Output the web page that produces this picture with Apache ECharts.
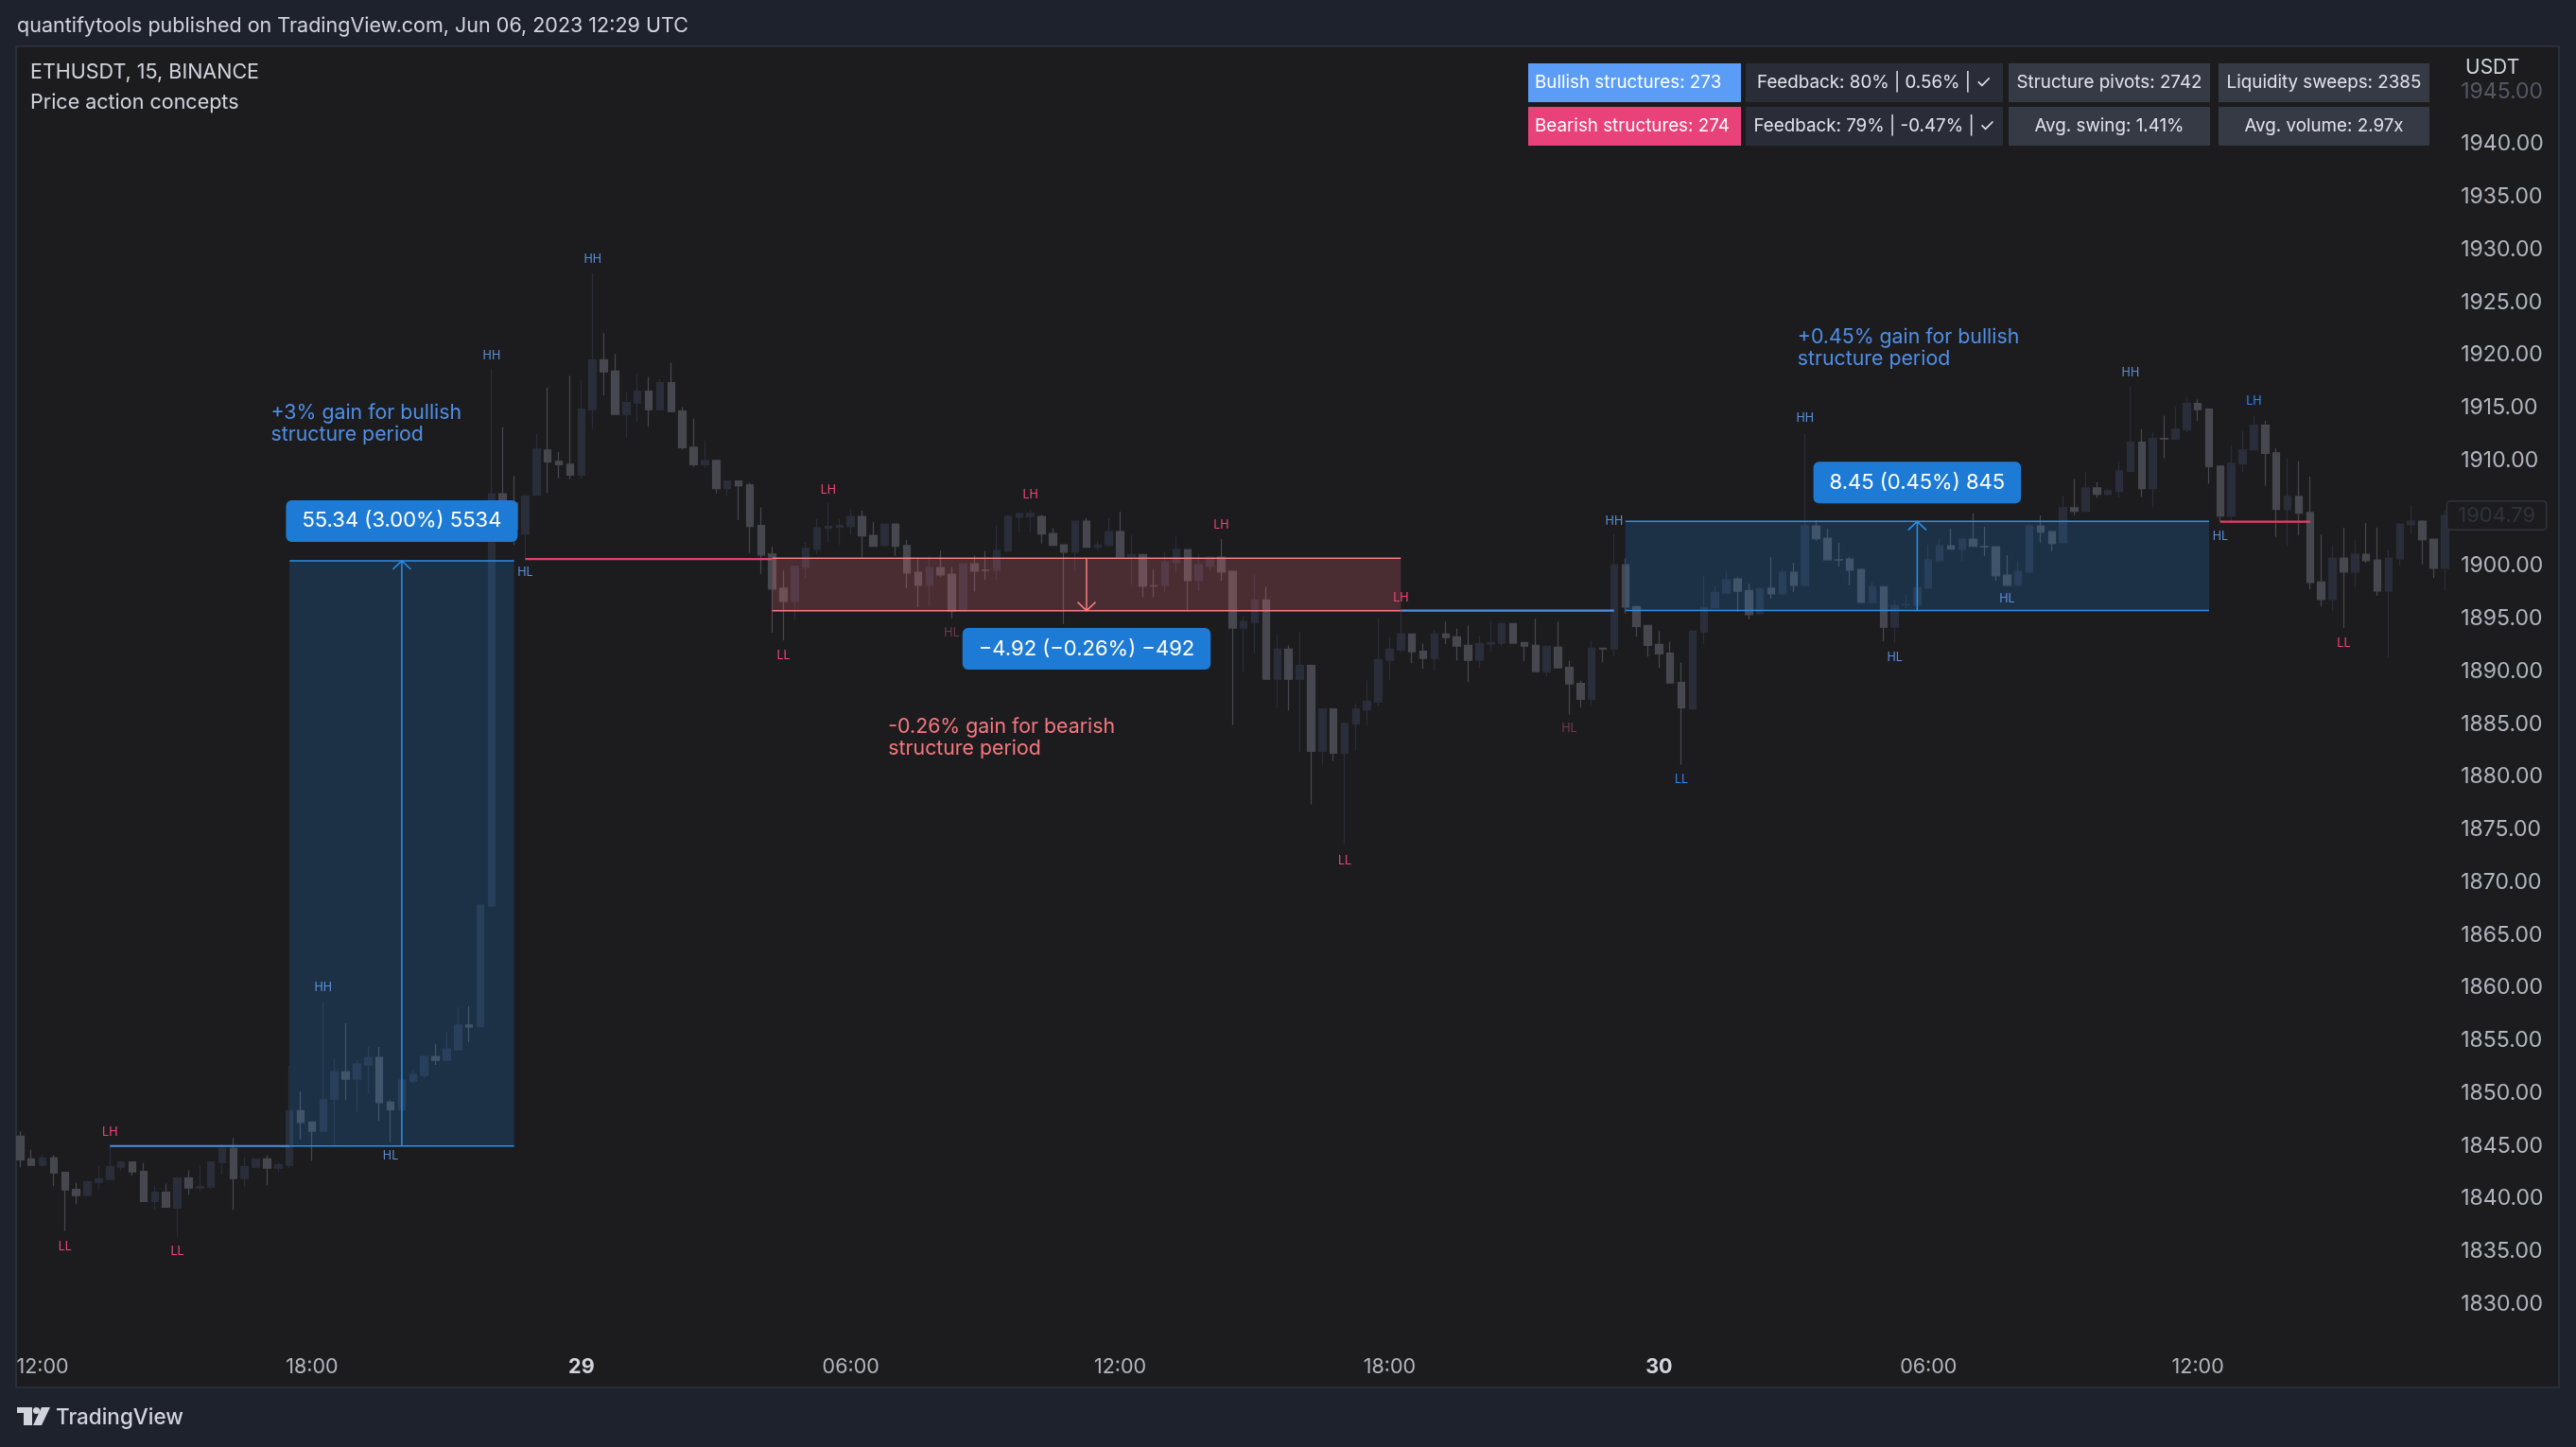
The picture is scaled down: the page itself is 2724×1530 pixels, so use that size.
<!DOCTYPE html>
<html><head><meta charset="utf-8">
<script src="https://cdn.jsdelivr.net/npm/echarts@6/dist/echarts.min.js"></script>
<style>html,body{margin:0;padding:0;background:#1e222d;}#c{width:2724px;height:1530px;}</style>
</head><body><div id="c"></div>
<script>
const FONT = "Inter, 'DejaVu Sans', sans-serif";

// ---- time axis ----
const START_UTC = Date.UTC(2023, 4, 28, 11, 30);
const BAR_MINUTES = 15;
const tickLabels = {2: '12:00', 26: '18:00', 50: '29', 74: '06:00', 98: '12:00', 122: '18:00', 146: '30', 170: '06:00', 194: '12:00'};

// ---- ETHUSDT 15m candles: [open, close, low, high] ----
const ohlc = [
[1845.93,1843.68,1842.96,1846.38],[1843.77,1843.17,1843.17,1844.67],[1843.17,1843.86,1843.17,1844.13],[1843.86,1842.45,1841.19,1844.13],
[1842.51,1840.83,1836.96,1842.51],[1840.89,1840.29,1839.48,1841.52],[1840.29,1841.61,1840.29,1841.70],[1841.55,1841.88,1840.92,1843.14],
[1841.82,1843.05,1841.82,1845.00],[1842.99,1843.50,1842.63,1843.50],[1843.50,1842.54,1842.18,1843.50],[1842.60,1839.75,1839.75,1843.41],
[1839.75,1840.62,1838.94,1841.25],[1840.62,1839.21,1839.21,1841.43],[1839.12,1841.97,1836.42,1841.97],[1841.97,1841.01,1840.38,1842.69],
[1841.01,1841.16,1840.74,1843.14],[1841.10,1843.50,1840.92,1843.50],[1843.44,1844.76,1842.27,1845.21],[1844.76,1841.91,1838.94,1845.75],
[1841.91,1843.05,1841.10,1843.95],[1842.99,1843.77,1842.90,1843.77],[1843.77,1842.90,1841.28,1844.13],[1842.90,1843.23,1842.54,1843.41],
[1843.17,1848.36,1842.90,1852.59],[1848.36,1847.22,1845.60,1850.16],[1847.28,1846.41,1843.62,1847.28],[1846.41,1849.44,1846.41,1858.71],
[1849.44,1852.05,1844.94,1853.22],[1852.05,1851.33,1849.35,1856.64],[1851.33,1852.77,1848.27,1853.13],[1852.68,1853.40,1850.01,1854.39],
[1853.40,1849.11,1847.40,1854.39],[1849.17,1848.45,1845.39,1849.35],[1848.45,1851.24,1848.45,1851.78],[1851.15,1851.78,1850.97,1852.32],
[1851.69,1853.49,1851.42,1853.49],[1853.49,1853.13,1852.68,1854.66],[1853.13,1854.21,1853.13,1855.83],[1854.12,1856.46,1854.12,1858.17],
[1856.46,1856.28,1854.84,1858.26],[1856.35,1867.83,1856.20,1867.90],[1867.77,1906.86,1867.70,1918.70],[1906.86,1904.50,1903.50,1913.17],
[1906.00,1903.50,1902.00,1908.55],[1903.03,1906.66,1900.60,1906.81],[1906.72,1911.10,1906.72,1912.51],[1911.01,1909.87,1906.93,1916.92],
[1909.93,1909.60,1908.31,1910.83],[1909.66,1908.61,1908.25,1918.03],[1908.61,1914.88,1908.25,1917.67],[1914.82,1919.56,1913.02,1927.75],
[1919.56,1918.42,1916.17,1922.08],[1918.48,1914.37,1914.37,1920.10],[1914.37,1915.51,1912.21,1916.50],[1915.45,1916.59,1913.71,1918.30],
[1916.59,1914.82,1913.20,1917.94],[1914.82,1917.40,1914.82,1917.76],[1917.40,1914.64,1914.64,1919.29],[1914.70,1911.22,1911.04,1915.06],
[1911.28,1909.60,1909.42,1913.98],[1909.60,1909.99,1909.33,1911.91],[1910.02,1907.35,1906.90,1910.02],[1907.35,1908.07,1906.63,1908.07],
[1908.07,1907.62,1904.38,1908.07],[1907.71,1903.75,1901.23,1907.89],[1903.84,1901.05,1899.25,1905.55],[1901.14,1897.81,1893.67,1901.86],
[1897.90,1896.64,1892.95,1899.58],[1896.64,1899.97,1894.84,1899.97],[1899.88,1901.68,1898.89,1902.22],[1901.59,1903.63,1901.14,1904.44],
[1903.57,1903.75,1902.22,1905.97],[1903.69,1903.84,1902.04,1904.44],[1903.75,1904.71,1902.94,1905.43],[1904.71,1902.85,1900.75,1905.25],
[1902.91,1901.86,1901.86,1904.17],[1901.95,1903.99,1901.95,1903.99],[1903.99,1901.86,1900.96,1903.99],[1901.95,1899.34,1897.90,1902.49],
[1899.40,1898.17,1896.10,1900.66],[1898.17,1899.85,1896.28,1900.96],[1899.85,1899.16,1898.95,1901.47],[1899.22,1895.71,1895.02,1899.94],
[1895.71,1900.21,1895.71,1900.21],[1900.21,1899.52,1897.57,1901.02],[1899.61,1899.58,1898.71,1901.41],[1899.61,1901.47,1898.71,1903.90],
[1901.41,1904.71,1901.41,1904.86],[1904.65,1904.98,1903.21,1904.98],[1904.71,1904.98,1903.27,1905.34],[1904.71,1903.03,1902.13,1904.86],
[1903.09,1901.95,1901.95,1903.60],[1902.01,1901.32,1894.50,1902.01],[1901.32,1904.26,1899.52,1904.26],[1904.26,1901.77,1901.77,1904.56],
[1901.77,1901.98,1901.50,1902.40],[1901.95,1903.27,1901.95,1904.53],[1903.27,1900.87,1900.87,1905.16],[1900.87,1901.08,1898.20,1902.91],
[1901.08,1898.08,1897.03,1901.08],[1898.14,1898.11,1897.03,1899.67],[1898.17,1900.39,1897.48,1901.35],[1900.33,1901.56,1899.34,1902.79],
[1901.56,1898.62,1895.86,1901.62],[1898.62,1900.12,1897.63,1901.17],[1899.97,1900.84,1899.52,1900.84],[1900.84,1899.43,1898.62,1902.55],
[1899.49,1894.12,1884.94,1899.49],[1894.12,1894.72,1889.98,1895.26],[1894.66,1896.79,1891.78,1899.13],[1896.79,1889.26,1889.26,1898.05],
[1889.26,1892.11,1886.47,1893.46],[1892.11,1889.26,1886.29,1892.47],[1889.26,1890.58,1882.33,1893.73],[1890.58,1882.42,1877.41,1890.58],
[1882.42,1886.44,1881.16,1886.44],[1886.44,1882.24,1881.52,1886.44],[1882.24,1885.09,1873.60,1885.09],[1885.03,1886.44,1882.51,1886.98],
[1886.38,1887.16,1884.94,1889.14],[1887.10,1891.12,1886.74,1894.99],[1891.06,1892.11,1889.17,1893.28],[1892.05,1893.55,1891.78,1895.74],
[1893.55,1891.87,1890.79,1893.55],[1891.93,1891.24,1890.25,1892.65],[1891.24,1893.55,1890.07,1893.91],[1893.55,1893.22,1892.59,1894.72],
[1893.28,1892.41,1891.06,1894.09],[1892.47,1891.06,1888.99,1894.36],[1891.06,1892.65,1890.34,1893.37],[1892.59,1892.74,1891.87,1894.81],
[1892.68,1894.54,1892.41,1894.72],[1894.54,1892.68,1892.68,1894.54],[1892.74,1892.41,1890.97,1892.74],[1892.47,1889.98,1889.98,1894.99],
[1889.98,1892.38,1889.53,1892.38],[1892.29,1890.34,1890.34,1894.72],[1890.40,1888.81,1885.93,1891.03],[1888.87,1887.37,1886.56,1889.14],
[1887.37,1892.20,1886.83,1892.92],[1892.20,1892.14,1890.88,1892.20],[1892.14,1900.12,1891.42,1903.00],[1900.12,1896.10,1895.47,1900.75],
[1896.16,1894.27,1893.31,1896.16],[1894.36,1892.47,1891.42,1894.36],[1892.56,1891.66,1890.34,1893.82],[1891.75,1888.90,1888.90,1892.83],
[1888.96,1886.56,1881.16,1890.85],[1886.47,1893.82,1886.47,1893.82],[1893.76,1896.07,1892.59,1899.07],[1896.01,1897.51,1896.01,1898.14],
[1897.42,1898.68,1897.42,1899.40],[1898.77,1897.60,1895.65,1898.95],[1897.69,1895.38,1894.93,1898.32],[1895.47,1897.87,1895.47,1897.87],
[1897.90,1897.36,1896.91,1900.84],[1897.36,1899.40,1897.36,1899.76],[1899.40,1898.17,1897.54,1900.30],[1898.17,1903.81,1898.17,1912.54],
[1903.81,1902.58,1902.40,1904.35],[1902.64,1900.60,1900.60,1903.54],[1900.60,1900.57,1899.97,1902.22],[1900.66,1899.61,1898.17,1900.84],
[1899.67,1896.55,1896.55,1899.67],[1896.55,1898.05,1896.55,1898.50],[1898.05,1894.21,1892.86,1898.14],[1894.21,1896.25,1892.68,1896.79],
[1896.31,1896.34,1896.01,1897.24],[1896.28,1897.96,1896.28,1899.31],[1897.90,1900.57,1897.90,1902.01],[1900.51,1901.92,1900.51,1902.55],
[1901.92,1901.59,1901.59,1903.54],[1901.59,1902.55,1900.42,1902.64],[1902.55,1901.86,1901.86,1904.98],[1901.86,1901.83,1900.96,1903.72],
[1901.83,1899.07,1898.62,1901.83],[1899.13,1898.17,1898.17,1901.02],[1898.17,1899.49,1898.17,1900.48],[1899.43,1903.81,1899.43,1903.99],
[1903.81,1903.21,1902.22,1904.80],[1903.27,1902.13,1901.41,1903.27],[1902.22,1905.52,1902.22,1906.69],[1905.52,1905.19,1904.83,1908.22],
[1905.19,1907.41,1905.19,1908.94],[1907.41,1906.81,1906.45,1907.95],[1906.81,1907.14,1906.63,1907.32],[1907.08,1909.03,1906.54,1909.93],
[1908.97,1911.73,1908.97,1917.04],[1911.73,1907.35,1906.54,1912.99],[1907.35,1912.09,1905.55,1912.72],[1912.09,1912.06,1910.23,1914.25],
[1912.03,1912.99,1912.03,1915.06],[1912.93,1915.42,1912.66,1916.05],[1915.42,1914.82,1913.74,1915.78],[1914.88,1909.42,1907.80,1914.88],
[1909.48,1904.74,1904.20,1909.48],[1904.74,1909.75,1904.20,1911.46],[1909.69,1911.01,1908.85,1912.81],[1911.01,1913.35,1911.01,1914.25],
[1913.35,1910.68,1907.62,1913.80],[1910.74,1905.37,1902.76,1911.19],[1905.37,1906.60,1901.86,1910.20],[1906.60,1905.01,1902.91,1909.93],
[1905.07,1898.44,1897.81,1908.49],[1898.50,1896.82,1896.19,1903.00],[1896.82,1900.75,1895.74,1902.01],[1900.75,1899.43,1894.12,1903.63],
[1899.43,1901.11,1897.99,1902.46],[1901.11,1900.51,1900.33,1904.08],[1900.57,1897.63,1897.18,1903.63],[1897.63,1900.75,1891.33,1901.47],
[1900.69,1903.99,1900.06,1903.99],[1903.93,1904.26,1903.03,1905.79],[1904.26,1902.49,1900.15,1904.35],[1902.55,1899.79,1898.89,1902.55],
[1899.79,1904.80,1897.63,1905.25]
];
const lastPrice = 1904.79;

// ---- structure zones: [fromBar, toBar, low, high] ----
const zones = [[24, 44, 1845.0, 1900.5], [67, 123, 1895.77, 1900.75], [143, 195, 1895.78, 1904.23]];
const zoneKinds = ['bull', 'bear', 'bull'];

// ---- structure levels: [fromBar, toBar, price] ----
const levels = [[8, 24, 1845.0], [45, 67, 1900.66], [123, 142, 1895.78], [196, 204, 1904.2]];
const levelKinds = ['bull', 'bear', 'bull', 'bear'];

// ---- measure arrows: [bar, fromPrice, toPrice] ----
const arrows = [[34, 1845.0, 1900.5], [95, 1900.75, 1895.77], [169, 1895.78, 1904.23]];
const arrowKinds = ['bull', 'bear', 'bull'];

// ---- measure tags: [bar, price] ----
const tags = [[34, 1904.27], [95, 1892.15], [169, 1907.92]];
const tagTexts = ['55.34 (3.00%) 5534', '\u22124.92 (\u22120.26%) \u2212492', '8.45 (0.45%) 845'];

// ---- period notes: [bar, price] ----
const notes = [[22, 1913.48], [77, 1883.69], [158, 1920.68]];
const noteTexts = ['+3% gain for bullish\nstructure period', '-0.26% gain for bearish\nstructure period', '+0.45% gain for bullish\nstructure period'];
const noteKinds = ['bull', 'bear', 'bull'];

// ---- pivot labels: [bar, price] ----
const pivots = [[4,1835.46],[8,1846.26],[14,1835.01],[27,1860.04],[33,1844.10],[42,1919.95],[45,1899.37],[51,1929.07],
  [68,1891.50],[72,1907.20],[83,1893.66],[90,1906.71],[107,1903.92],[118,1872.06],[123,1896.99],[138,1884.57],
  [142,1904.28],[148,1879.71],[159,1914.00],[167,1891.32],[177,1896.90],[188,1918.33],[196,1902.84],[199,1915.63],[207,1892.65]];
const pivotTexts = ['LL','LH','LL','HH','HL','HH','HL','HH','LL','LH','HL','LH','LH','LL','LH','HL','HH','LL','HH','HL','HL','HH','HL','LH','LL'];
const pivotKinds = ['p','p','p','b','b','b','b','b','p','p','d','p','p','p','p','d','b','B','b','b','b','b','b','B','p'];

// ---- stats table ----
const tableRows = [
  ['Bullish structures: 273', 'Feedback: 80% | 0.56% | \u2713', 'Structure pivots: 2742', 'Liquidity sweeps: 2385'],
  ['Bearish structures: 274', 'Feedback: 79% | -0.47% | \u2713', 'Avg. swing: 1.41%', 'Avg. volume: 2.97x']
];

// ---------------------------------------------------------------
const categories = ohlc.map((_, i) => {
  const d = new Date(START_UTC + i * BAR_MINUTES * 60000);
  return d.getUTCDate() + ' ' + String(d.getUTCHours()).padStart(2, '0') + ':' + String(d.getUTCMinutes()).padStart(2, '0');
});

const COL = {
  bull: '#2a8ff0', bear: '#f77c80',
  bullFill: 'rgba(33,150,243,0.18)', bearFill: 'rgba(240,110,120,0.22)',
  levelBull: '#4a90e2', levelBear: '#e63f6c',
  noteBull: '#4f8fe6', noteBear: '#f7777f',
  pivot: {p: '#ef4676', b: '#5b8fd9', B: '#2a8af0', d: '#6e3a4c'}
};

const chart = echarts.init(document.getElementById('c'), null, {renderer: 'canvas', width: 2724, height: 1530});

// table graphic
const colX = [1616, 1846, 2124, 2346], colW = [225, 272, 213, 223];
const rowY = [67, 113], rowH = 41;
const cellFill = [['#5b9cf6', '#2a2d37', '#363a45', '#363a45'], ['#e9417a', '#2a2d37', '#363a45', '#363a45']];
const tableEls = [];
tableRows.forEach((row, r) => row.forEach((txt, c) => {
  tableEls.push({type: 'rect', z: 20, shape: {x: colX[c], y: rowY[r], width: colW[c], height: rowH}, style: {fill: cellFill[r][c]}});
  tableEls.push({type: 'text', z: 21, x: c === 0 ? colX[c] + 7 : colX[c] + colW[c] / 2, y: rowY[r] + rowH / 2,
    style: {text: txt, fill: c === 0 ? '#ffffff' : '#e0e3eb', fontSize: 18.8, fontFamily: FONT, align: c === 0 ? 'left' : 'center', verticalAlign: 'middle'}});
}));

const option = {
  backgroundColor: '#1e222d',
  animation: false,
  grid: {left: 15.4, width: 2575.8, top: 41.0, height: 1393.75, containLabel: false},
  xAxis: {
    type: 'category', data: categories, boundaryGap: true,
    axisLine: {show: false}, axisTick: {show: false}, splitLine: {show: false},
    axisLabel: {
      interval: (i) => tickLabels[i] !== undefined,
      formatter: (v, i) => { const t = tickLabels[i] || ''; return (t === '29' || t === '30') ? '{b|' + t + '}' : t; },
      color: '#b2b5be', fontSize: 21.5, fontFamily: FONT, margin: 0, lineHeight: 22,
      rich: {b: {fontWeight: 'bold', color: '#d1d4dc', fontSize: 21.5, fontFamily: FONT}}
    }
  },
  yAxis: {
    type: 'value', position: 'right', min: 1825, max: 1950, interval: 5, scale: true,
    axisLine: {show: false}, axisTick: {show: false}, splitLine: {show: false},
    axisLabel: {
      margin: 11, fontSize: 23, color: '#b2b5be', fontFamily: FONT,
      formatter: (v) => (v < 1830 || v > 1945) ? '' : (v === 1945 ? '{d|1945.00}' : v.toFixed(2)),
      rich: {d: {color: '#555862', fontSize: 23, fontFamily: FONT}}
    }
  },
  graphic: {elements: [
    {type: 'rect', z: -10, shape: {x: 17, y: 49, width: 2689, height: 1418}, style: {fill: '#1c1c1f', stroke: '#2a2e39', lineWidth: 2}},
    {type: 'text', x: 18, y: 28, style: {text: 'quantifytools published on TradingView.com, Jun 06, 2023 12:29 UTC', fill: '#d1d4dc', fontSize: 21.5, fontFamily: FONT, verticalAlign: 'middle'}},
    {type: 'text', x: 32, y: 77, style: {text: 'ETHUSDT, 15, BINANCE', fill: '#d1d4dc', fontSize: 21.5, fontFamily: FONT, verticalAlign: 'middle'}},
    {type: 'text', x: 32, y: 109, style: {text: 'Price action concepts', fill: '#d1d4dc', fontSize: 21.5, fontFamily: FONT, verticalAlign: 'middle'}},
    {type: 'text', x: 2607, y: 72, z: 20, style: {text: 'USDT', fill: '#d1d4dc', fontSize: 21, fontFamily: FONT, verticalAlign: 'middle'}},
    // TradingView logo
    {type: 'rect', shape: {x: 18, y: 1488, width: 16, height: 6}, style: {fill: '#d1d4dc'}},
    {type: 'rect', shape: {x: 25, y: 1488, width: 9, height: 19}, style: {fill: '#d1d4dc'}},
    {type: 'circle', shape: {cx: 38.5, cy: 1491.5, r: 3.6}, style: {fill: '#d1d4dc'}},
    {type: 'polygon', shape: {points: [[44, 1488], [53, 1488], [44, 1507], [35, 1507]]}, style: {fill: '#d1d4dc'}},
    {type: 'text', x: 59, y: 1499, style: {text: 'TradingView', fill: '#d1d4dc', fontSize: 22.5, fontWeight: 500, fontFamily: FONT, verticalAlign: 'middle'}}
  ].concat(tableEls)},
  series: [
    {
      type: 'candlestick', name: 'ETHUSDT', data: ohlc, barWidth: 8, z: 2,
      itemStyle: {color: '#2a2e3a', color0: '#47474f', borderColor: '#2a2e3a', borderColor0: '#47474f', borderWidth: 1.2}
    },
    { // zones
      type: 'custom', z: 3, data: zones, encode: {x: [0, 1], y: [2, 3]}, silent: true,
      renderItem: (params, api) => {
        const k = zoneKinds[params.dataIndex];
        const a = api.coord([api.value(0), api.value(3)]), b = api.coord([api.value(1), api.value(2)]);
        const stroke = k === 'bull' ? COL.bull : COL.bear;
        return {type: 'group', children: [
          {type: 'rect', shape: {x: a[0], y: a[1], width: b[0] - a[0], height: b[1] - a[1]}, style: {fill: k === 'bull' ? COL.bullFill : COL.bearFill}},
          {type: 'line', shape: {x1: a[0], y1: a[1], x2: b[0], y2: a[1]}, style: {stroke, lineWidth: 1.5}},
          {type: 'line', shape: {x1: a[0], y1: b[1], x2: b[0], y2: b[1]}, style: {stroke, lineWidth: 1.5}}
        ]};
      }
    },
    { // levels
      type: 'custom', z: 4, data: levels, encode: {x: [0, 1], y: 2}, silent: true,
      renderItem: (params, api) => {
        const a = api.coord([api.value(0), api.value(2)]), b = api.coord([api.value(1), api.value(2)]);
        return {type: 'line', shape: {x1: a[0], y1: a[1], x2: b[0], y2: b[1]},
          style: {stroke: levelKinds[params.dataIndex] === 'bull' ? COL.levelBull : COL.levelBear, lineWidth: 2.2}};
      }
    },
    { // arrows
      type: 'custom', z: 5, data: arrows, encode: {x: 0, y: [1, 2]}, silent: true,
      renderItem: (params, api) => {
        const a = api.coord([api.value(0), api.value(1)]), b = api.coord([api.value(0), api.value(2)]);
        const dir = b[1] < a[1] ? -1 : 1;
        const stroke = arrowKinds[params.dataIndex] === 'bull' ? COL.bull : COL.bear;
        return {type: 'group', children: [
          {type: 'line', shape: {x1: a[0], y1: a[1], x2: b[0], y2: b[1]}, style: {stroke, lineWidth: 1.5}},
          {type: 'polyline', shape: {points: [[b[0] - 9.5, b[1] - dir * 9], [b[0], b[1]], [b[0] + 9.5, b[1] - dir * 9]]}, style: {stroke, lineWidth: 1.5, fill: null}}
        ]};
      }
    },
    { // pivot labels
      type: 'custom', z: 6, data: pivots, silent: true,
      renderItem: (params, api) => {
        const p = api.coord([api.value(0), api.value(1)]);
        return {type: 'text', x: p[0], y: p[1], style: {text: pivotTexts[params.dataIndex], fill: COL.pivot[pivotKinds[params.dataIndex]],
          fontSize: 12.5, fontFamily: FONT, align: 'center', verticalAlign: 'middle'}};
      }
    },
    { // notes
      type: 'custom', z: 6, data: notes, silent: true,
      renderItem: (params, api) => {
        const p = api.coord([api.value(0), api.value(1)]);
        return {type: 'text', x: p[0] + 4, y: p[1], style: {text: noteTexts[params.dataIndex], fill: noteKinds[params.dataIndex] === 'bull' ? COL.noteBull : COL.noteBear,
          fontSize: 21.3, lineHeight: 23, fontFamily: FONT, align: 'left', verticalAlign: 'middle'}};
      }
    },
    { // measurement tags
      type: 'custom', z: 7, data: tags, silent: true,
      renderItem: (params, api) => {
        const p = api.coord([api.value(0), api.value(1)]);
        return {type: 'text', x: p[0], y: p[1], style: {text: tagTexts[params.dataIndex], fill: '#ffffff', fontSize: 22, lineHeight: 24, fontFamily: FONT,
          align: 'center', verticalAlign: 'middle', backgroundColor: '#1e7bd5', padding: [10, 17], borderRadius: 6}};
      }
    },
    { // last price tag on the price scale
      type: 'custom', z: 8, data: [[ohlc.length - 1, lastPrice]], silent: true, clip: false,
      renderItem: (params, api) => {
        const p = api.coord([api.value(0), api.value(1)]);
        const cs = params.coordSys;
        return {type: 'text', x: cs.x + cs.width - 3, y: p[1], style: {text: lastPrice.toFixed(2), fill: '#30333c', fontSize: 22, lineHeight: 21, fontFamily: FONT,
          align: 'left', verticalAlign: 'middle', backgroundColor: '#1c1c1f', borderColor: '#31343d', borderWidth: 1.5, borderRadius: 3, padding: [4, 11]}};
      }
    }
  ]
};
chart.setOption(option);
</script>
</body></html>
